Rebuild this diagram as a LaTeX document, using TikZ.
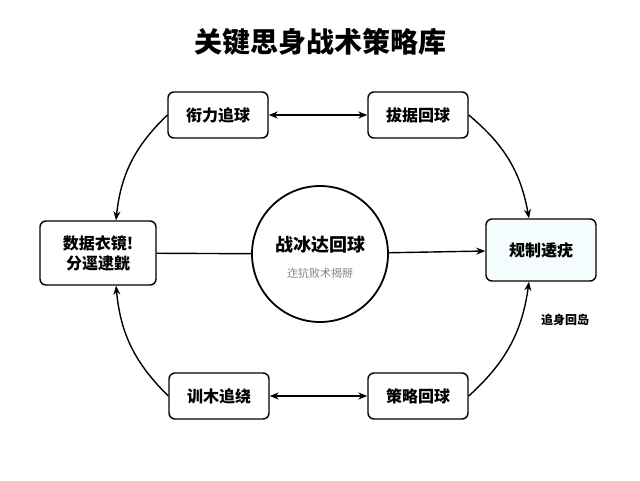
\documentclass[tikz,border=0pt]{standalone}
\usepackage{fontspec}
\newfontfamily\cjk{Noto Sans CJK SC}
\usetikzlibrary{arrows.meta}

\begin{document}
\begin{tikzpicture}[>={Stealth[length=9pt,width=7pt]}, x=1pt, y=-1pt,
    box/.style={draw, line width=1.4pt, rounded corners=6pt, fill=white, font=\cjk\bfseries\fontsize{16}{20}\selectfont, align=center},
    link/.style={line width=1.4pt}]
    \useasboundingbox (0,0) rectangle (640,480);

    % title
    \node (title) at (320,42) {\cjk\bfseries\fontsize{28}{32}\selectfont 关键思身战术策略库};

    % boxes
    \node[box, minimum width=100, minimum height=46] (tl) at (218,115) {衔力追球};
    \node[box, minimum width=100, minimum height=46] (tr) at (418,115) {拔据回球};
    \node[box, minimum width=116, minimum height=64] (lf) at (98,253) {数据衣镜!\\分逕逮皝};
    \node[box, minimum width=110, minimum height=62, fill=cyan!4] (rt) at (541,250) {规制逶疣};
    \node[box, minimum width=100, minimum height=46] (bl) at (219,396) {训木追绕};
    \node[box, minimum width=100, minimum height=46] (br) at (418,396) {策略回球};

    % centre
    \node[draw, line width=1.8pt, circle, minimum size=136] (hub) at (320,254) {};
    \node[font=\cjk\bfseries\fontsize{18}{22}\selectfont] (hubt) at (320,245) {战冰达回球};
    \node[font=\cjk\fontsize{11}{13}\selectfont, text=gray] (hubs) at (320,273) {迮犺败术揭掰};

    % connectors
    \draw[link, <->] (tl) -- (tr);
    \draw[link, <->] (bl) -- (br);
    \draw[link] (lf) -- (hub);
    \draw[link, ->] (hub) -- (rt);
    \draw[link, ->] (tl.west) to[bend right=20] ([xshift=18]lf.north);
    \draw[link, ->] (bl.west) to[bend left=20] ([xshift=18]lf.south);
    \draw[link, ->] (tr.east) to[bend left=20] ([xshift=-12]rt.north);
    \draw[link, ->] (br.east) to[bend right=20] ([xshift=-12]rt.south);

    \node[font=\cjk\bfseries\fontsize{12}{14}\selectfont] (lbl) at (565,320) {追身回岛};
\end{tikzpicture}
\end{document}
